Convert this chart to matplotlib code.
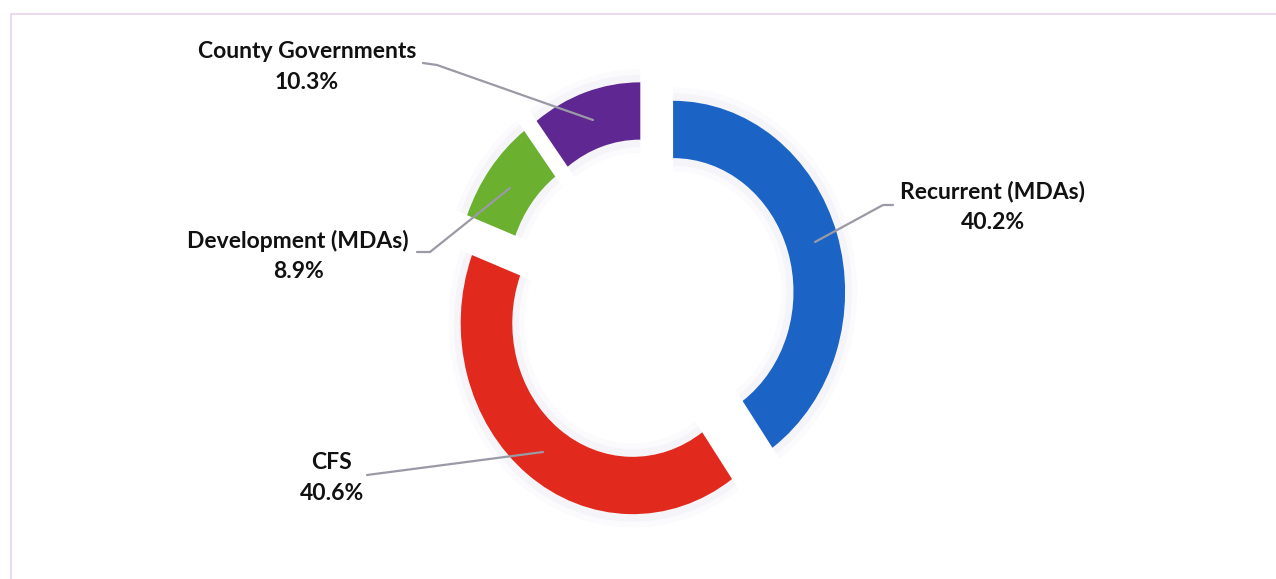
"""Donut chart of expenditure shares (exploded ring, callout labels)."""
import matplotlib.pyplot as plt
from matplotlib.patches import Rectangle

labels = ["Recurrent (MDAs)", "CFS", "Development (MDAs)", "County Governments"]
shares = [40.2, 40.6, 8.9, 10.3]
colors = ["#1C63C6", "#E2291D", "#6BB02F", "#5F2791"]

# label text anchor (pixels from top-left) and leader path end points
label_xy = [(993, 207), (332, 478), (298, 256), (307, 67)]
leader = [
    [(893, 205), (883, 205), (815, 242)],
    [(367, 475), (543, 452)],
    [(417, 252), (430, 252), (510, 188)],
    [(423, 63), (437, 65), (593, 120)],
]

W, H = 1276, 579
CX, CY = 648.5, 300.5      # ring centre in pixels
RX, RY = 172.0, 191.0      # pixels per radius unit (ring is slightly squashed)

plt.rcParams["font.family"] = ["Lato", "DejaVu Sans"]

fig = plt.figure(figsize=(W / 100, H / 100), dpi=100)
ax = fig.add_axes([0, 0, 1, 1])

# soft shadow behind the ring
for r, w, a in [(1.07, 0.44, 0.05), (1.04, 0.38, 0.07)]:
    ax.pie(shares, radius=r, startangle=90, counterclock=False,
           explode=[0.15] * 4, colors=["#b4aecb"] * 4,
           wedgeprops=dict(width=w, linewidth=0, alpha=a))
ax.pie(shares, radius=1.0, startangle=90, counterclock=False,
       explode=[0.15] * 4, colors=colors,
       wedgeprops=dict(width=0.30, linewidth=0))

ax.set_aspect("auto")
ax.set_xlim(-CX / RX, (W - CX) / RX)
ax.set_ylim(-(H - CY) / RY, CY / RY)
ax.axis("off")


def to_data(px, py):
    return (px - CX) / RX, (CY - py) / RY


for (lx, ly), lab, val, path in zip(label_xy, labels, shares, leader):
    xs, ys = zip(*[to_data(*p) for p in path])
    ax.plot(xs, ys, color="#9a9aa6", lw=1.6, solid_capstyle="round")
    tx, ty = to_data(lx, ly)
    ax.text(tx, ty, f"{lab}\n{val:.1f}%", ha="center", va="center",
            fontsize=16.5, fontweight="bold", color="#111111", linespacing=1.55)

# faint frame around the chart area (top and left edges visible)
fig.patches.append(Rectangle((11 / W, -0.1), 1.2, (H - 14) / H + 0.1,
                             transform=fig.transFigure, fill=False,
                             edgecolor="#e4d4ea", lw=1.2))

fig.savefig("out.png", dpi=100)
